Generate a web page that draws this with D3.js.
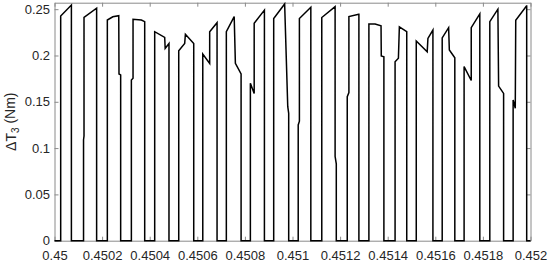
<!DOCTYPE html>
<html>
<head>
<meta charset="utf-8">
<script src="https://cdn.jsdelivr.net/npm/d3@7"></script>
<style>
  html, body { margin: 0; padding: 0; background: #fff; }
  svg { display: block; font-family: "Liberation Sans", Arial, sans-serif; }
</style>
</head>
<body>
<div id="chart"></div>
<script>
// ΔT3 torque ripple
const time = [
  0.450000, 0.450026, 0.450026, 0.450071, 0.450071,
  0.450122, 0.450122, 0.450124, 0.450124, 0.450177, 0.450177,
  0.450222, 0.450222, 0.450245, 0.450270, 0.450271, 0.450278, 0.450278,
  0.450323, 0.450323, 0.450330, 0.450330, 0.450365, 0.450379, 0.450379,
  0.450421, 0.450421, 0.450463, 0.450465, 0.450481, 0.450481,
  0.450522, 0.450522, 0.450547, 0.450550, 0.450585, 0.450585,
  0.450623, 0.450623, 0.450652, 0.450652, 0.450683, 0.450683,
  0.450722, 0.450722, 0.450755, 0.450760, 0.450784, 0.450784,
  0.450823, 0.450823, 0.450839, 0.450839, 0.450882, 0.450882,
  0.450921, 0.450921, 0.450967, 0.450980, 0.450984, 0.450984,
  0.451024, 0.451024, 0.451029, 0.451029, 0.451077, 0.451077,
  0.451123, 0.451123, 0.451179, 0.451179, 0.451184, 0.451184,
  0.451230, 0.451230, 0.451237, 0.451237, 0.451278, 0.451279, 0.451279,
  0.451321, 0.451321, 0.451347, 0.451372, 0.451373, 0.451384, 0.451384,
  0.451431, 0.451431, 0.451445, 0.451449, 0.451480, 0.451480,
  0.451520, 0.451520, 0.451566, 0.451569, 0.451590, 0.451590,
  0.451629, 0.451629, 0.451656, 0.451659, 0.451682, 0.451682,
  0.451721, 0.451721, 0.451751, 0.451751, 0.451787, 0.451787,
  0.451829, 0.451829, 0.451863, 0.451866, 0.451887, 0.451887,
  0.451927, 0.451927, 0.451936, 0.451938, 0.451983, 0.451984, 0.451984,
  0.452000
];
const dT3 = [
  0, 0, 0.2426, 0.2545, 0,
  0, 0.109, 0.113, 0.2412, 0.2510, 0,
  0, 0.2383, 0.2418, 0.2430, 0.1800, 0.1790, 0,
  0, 0.1735, 0.1755, 0.2390, 0.2383, 0.2365, 0,
  0, 0.2257, 0.2196, 0.2077, 0.2130, 0,
  0, 0.2052, 0.2130, 0.2230, 0.2130, 0,
  0, 0.2016, 0.1915, 0.2257, 0.2354, 0,
  0, 0.2257, 0.2420, 0.1915, 0.1800, 0,
  0, 0.1700, 0.1590, 0.2347, 0.2490, 0,
  0, 0.2400, 0.2556, 0.1450, 0.1375, 0,
  0, 0.1250, 0.1290, 0.2400, 0.2520, 0,
  0, 0.2410, 0.2527, 0.0910, 0.0830, 0,
  0, 0.1555, 0.1600, 0.2420, 0.2445, 0.2445, 0,
  0, 0.2340, 0.2340, 0.2320, 0.1995, 0.1985, 0,
  0, 0.1933, 0.1970, 0.2310, 0.2257, 0,
  0, 0.2156, 0.2040, 0.2185, 0.2275, 0,
  0, 0.2190, 0.2300, 0.2060, 0.1976, 0,
  0, 0.1880, 0.1730, 0.2300, 0.2450, 0,
  0, 0.2365, 0.2500, 0.1670, 0.1590, 0,
  0, 0.1520, 0.1430, 0.2380, 0.2534, 0.2534, 0,
  0
];

const xTicks = [0.45, 0.4502, 0.4504, 0.4506, 0.4508, 0.451, 0.4512, 0.4514, 0.4516, 0.4518, 0.452];
const xTickLabels = ["0.45", "0.4502", "0.4504", "0.4506", "0.4508", "0.451", "0.4512", "0.4514", "0.4516", "0.4518", "0.452"];
const yTicks = [0, 0.05, 0.1, 0.15, 0.2, 0.25];
const yTickLabels = ["0", "0.05", "0.1", "0.15", "0.2", "0.25"];

const width = 550, height = 264;
const margin = {top: 2.7, right: 19.5, bottom: 23.3, left: 54.5};

const svg = d3.select("#chart").append("svg")
  .attr("width", width)
  .attr("height", height);

const x = d3.scaleLinear().domain([0.45, 0.452]).range([margin.left, width - margin.right]);
const y = d3.scaleLinear().domain([0, 0.257]).range([height - margin.bottom, margin.top]);

const axisColor = "#8a8a8a", textColor = "#262626";

function styleAxis(g) {
  g.selectAll("path.domain").attr("stroke", axisColor).attr("stroke-width", 1);
  g.selectAll(".tick line").attr("stroke", axisColor);
  g.selectAll(".tick text").attr("fill", textColor).style("font-size", "13px");
}

// axes (MATLAB style: box, inward ticks)
svg.append("g")
  .attr("transform", `translate(0,${y(0)})`)
  .call(d3.axisBottom(x).tickValues(xTicks)
    .tickFormat((d, i) => xTickLabels[i])
    .tickSizeInner(-4).tickSizeOuter(0).tickPadding(10))
  .call(styleAxis);

svg.append("g")
  .attr("transform", `translate(0,${margin.top})`)
  .call(d3.axisTop(x).tickValues(xTicks).tickFormat("")
    .tickSizeInner(-4).tickSizeOuter(0))
  .call(styleAxis);

svg.append("g")
  .attr("transform", `translate(${margin.left},0)`)
  .call(d3.axisLeft(y).tickValues(yTicks)
    .tickFormat((d, i) => yTickLabels[i])
    .tickSizeInner(-4).tickSizeOuter(0).tickPadding(4.5))
  .call(styleAxis);

svg.append("g")
  .attr("transform", `translate(${width - margin.right},0)`)
  .call(d3.axisRight(y).tickValues(yTicks).tickFormat("")
    .tickSizeInner(-4).tickSizeOuter(0))
  .call(styleAxis);

svg.selectAll("g").attr("font-family", null);

// signal
const pts = time.map((t, i) => [t, dT3[i]]);
svg.append("path")
  .datum(pts)
  .attr("fill", "none")
  .attr("stroke", "#000")
  .attr("stroke-width", 1.5)
  .attr("stroke-linejoin", "miter")
  .attr("d", d3.line().x(d => x(d[0])).y(d => y(d[1])));

// y label
const yl = svg.append("text")
  .attr("transform", `translate(16,${(y(0) + y(0.257)) / 2}) rotate(-90)`)
  .attr("text-anchor", "middle")
  .attr("fill", textColor)
  .style("font-size", "14px");
yl.append("tspan").text("ΔT");
yl.append("tspan").attr("dy", "0.3em").style("font-size", "10px").text("3");
yl.append("tspan").attr("dy", "-0.3em").text(" (Nm)");
</script>
</body>
</html>
